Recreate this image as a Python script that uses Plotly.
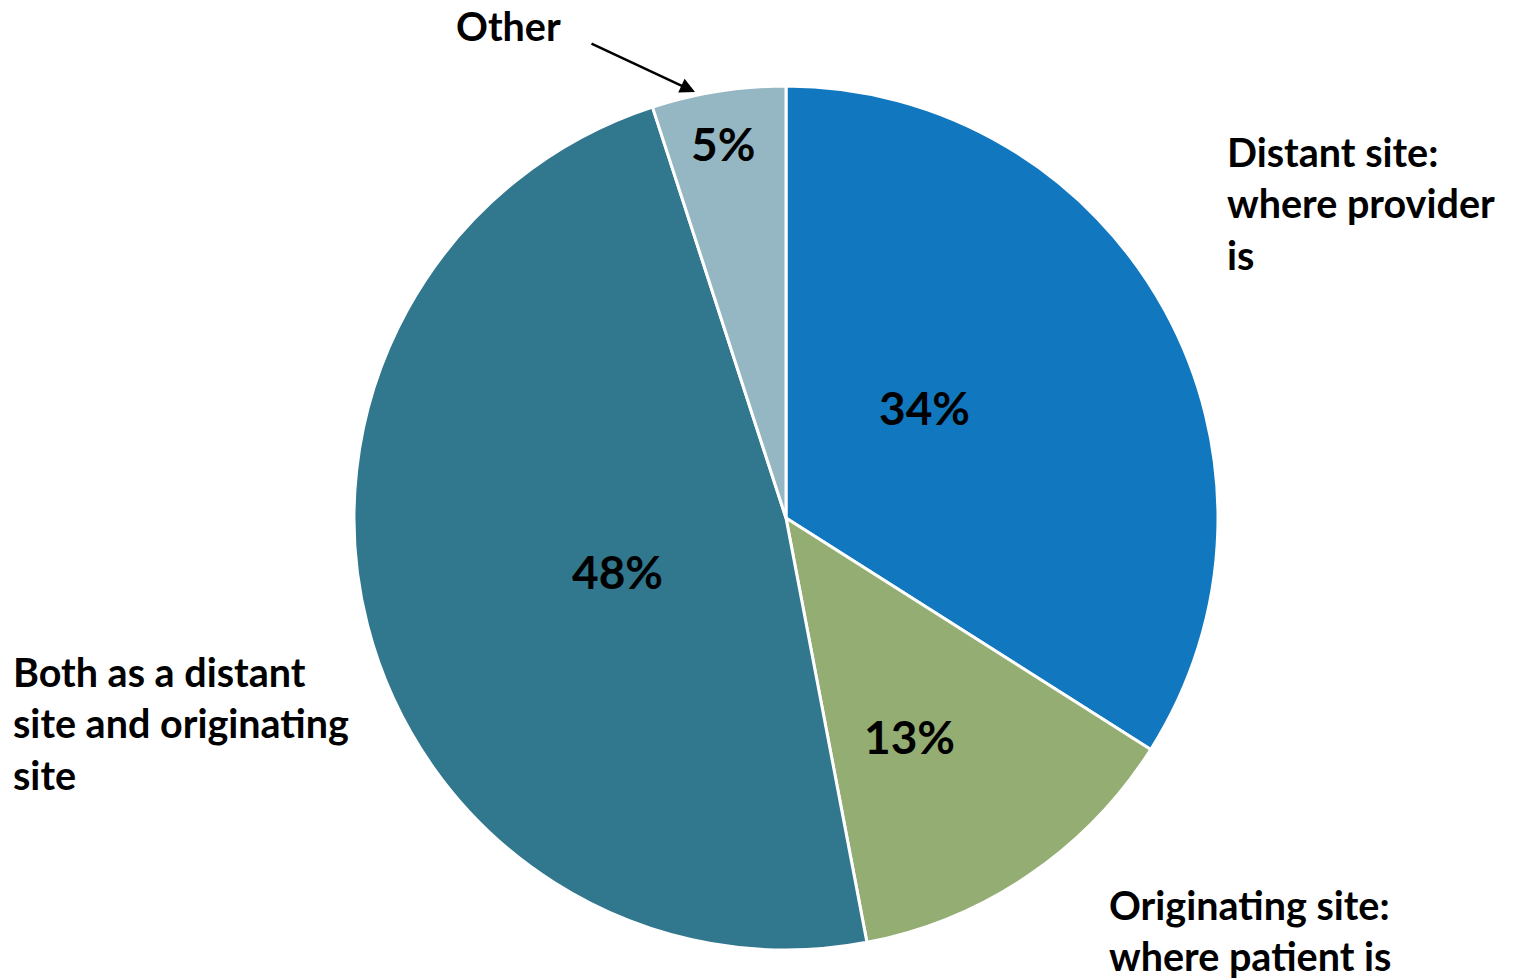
import math
import plotly.graph_objects as go

# Share of respondents by telehealth site role
categories = ["Distant site: where provider is", "Originating site: where patient is",
              "Both as a distant site and originating site", "Other"]
values = [34, 13, 48, 5]
colors = ["#1177BF", "#93AD72", "#31778E", "#94B7C3"]

W, H = 1515, 979
FONT = "Lato"

# pie geometry (pixels)
cx, cy, R = 786, 518, 432
dom_x = [(cx - R) / W, (cx + R) / W]
dom_y = [1 - (cy + R) / H, 1 - (cy - R) / H]

fig = go.Figure(go.Pie(
    labels=categories,
    values=values,
    marker=dict(colors=colors, line=dict(color="white", width=3)),
    sort=False,
    direction="clockwise",
    rotation=0,
    textinfo="none",
    hoverinfo="label+percent",
    showlegend=False,
    domain=dict(x=dom_x, y=dom_y),
))

# percentage labels placed inside each slice (radius fraction, angle shift in degrees)
label_place = [(0.41, -9.6), (0.58, 4.7), (0.41, -3.3), (0.88, -0.5)]
total = sum(values)
annotations = []
start = 0.0
for v, (rf, shift) in zip(values, label_place):
    mid = (start + v / 2) / total * 360 + shift
    start += v
    px = cx + rf * R * math.sin(math.radians(mid))
    py = cy - rf * R * math.cos(math.radians(mid))
    annotations.append(dict(
        x=px / W, y=1 - py / H, xref="paper", yref="paper",
        text=f"<b>{round(v / total * 100)}%</b>", showarrow=False,
        font=dict(family=FONT, size=46, color="black"),
        xanchor="center", yanchor="middle",
    ))

# category labels
cat_text = [
    ("Distant site:<br>where provider<br>is", 1225, 126),
    ("Originating site:<br>where patient is", 1107, 879),
    ("Both as a distant<br>site and originating<br>site", 11, 646),
]
for txt, lx, ly in cat_text:
    annotations.append(dict(
        x=lx / W, y=1 - ly / H, xref="paper", yref="paper",
        text=f"<b>{txt}</b>", showarrow=False, align="left",
        font=dict(family=FONT, size=39.5, color="black"),
        xanchor="left", yanchor="top",
    ))

annotations.append(dict(
    x=508 / W, y=1 - 25 / H, xref="paper", yref="paper",
    text="<b>Other</b>", showarrow=False,
    font=dict(family=FONT, size=39.5, color="black"),
    xanchor="center", yanchor="middle",
))
# arrow pointing at the "Other" slice
annotations.append(dict(
    x=695 / W, y=1 - 92 / H, xref="paper", yref="paper",
    ax=590 - 695, ay=43 - 92, axref="pixel", ayref="pixel",
    text="", showarrow=True, arrowhead=2, arrowsize=1.2, arrowwidth=2.5,
    arrowcolor="black",
))

fig.update_layout(
    width=W, height=H,
    margin=dict(l=0, r=0, t=0, b=0),
    paper_bgcolor="white", plot_bgcolor="white",
    annotations=annotations,
)

fig.write_html("out.html")
